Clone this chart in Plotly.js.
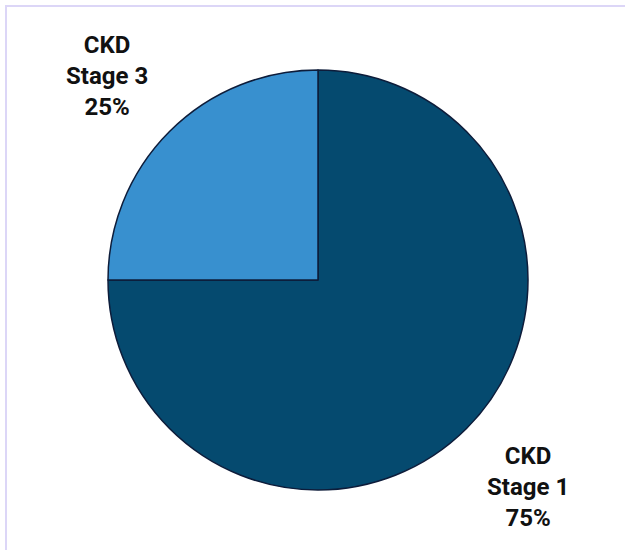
<!DOCTYPE html>
<html>
<head>
<meta charset="utf-8">
<script src="https://cdn.plot.ly/plotly-3.0.1.min.js"></script>
<style>
html,body{margin:0;padding:0;background:#fff;}
#chart{width:625px;height:550px;}
</style>
</head>
<body>
<div id="chart"></div>
<script>
const categories = ["CKD Stage 1", "CKD Stage 3"];
const shareValues = [75, 25];
const sliceColors = ["#054a6f", "#3890cf"];

const labelPos = [
  {x: 528, y: 487},
  {x: 107, y: 76}
];

const W = 625, H = 550;
const annotations = categories.map((c, i) => {
  const parts = c.split(" ");
  return {
    xref: "paper", yref: "paper",
    x: labelPos[i].x / W, y: 1 - labelPos[i].y / H,
    xanchor: "center", yanchor: "middle",
    text: parts[0] + "<br>" + parts.slice(1).join(" ") + "<br>" + shareValues[i] + "%",
    showarrow: false,
    align: "center",
    font: {family: "Roboto", size: 24, color: "#111111", weight: 700}
  };
});

const trace = {
  type: "pie",
  labels: categories,
  values: shareValues,
  sort: false,
  direction: "clockwise",
  rotation: 0,
  textinfo: "none",
  hoverinfo: "label+percent",
  marker: {colors: sliceColors, line: {color: "#0d1c3a", width: 1.5}},
  domain: {x: [108 / W, 528 / W], y: [1 - 490 / H, 1 - 70 / H]}
};

const layout = {
  width: W, height: H,
  margin: {l: 0, r: 0, t: 0, b: 0},
  paper_bgcolor: "#ffffff",
  showlegend: false,
  annotations: annotations,
  shapes: [{
    type: "rect", xref: "paper", yref: "paper",
    x0: 6 / W, x1: 1.05, y0: -0.05, y1: 1 - 6 / H,
    line: {color: "#dcd6f7", width: 2}, fillcolor: "rgba(0,0,0,0)", layer: "below"
  }]
};

Plotly.newPlot("chart", [trace], layout, {displayModeBar: false, staticPlot: true});
</script>
</body>
</html>
